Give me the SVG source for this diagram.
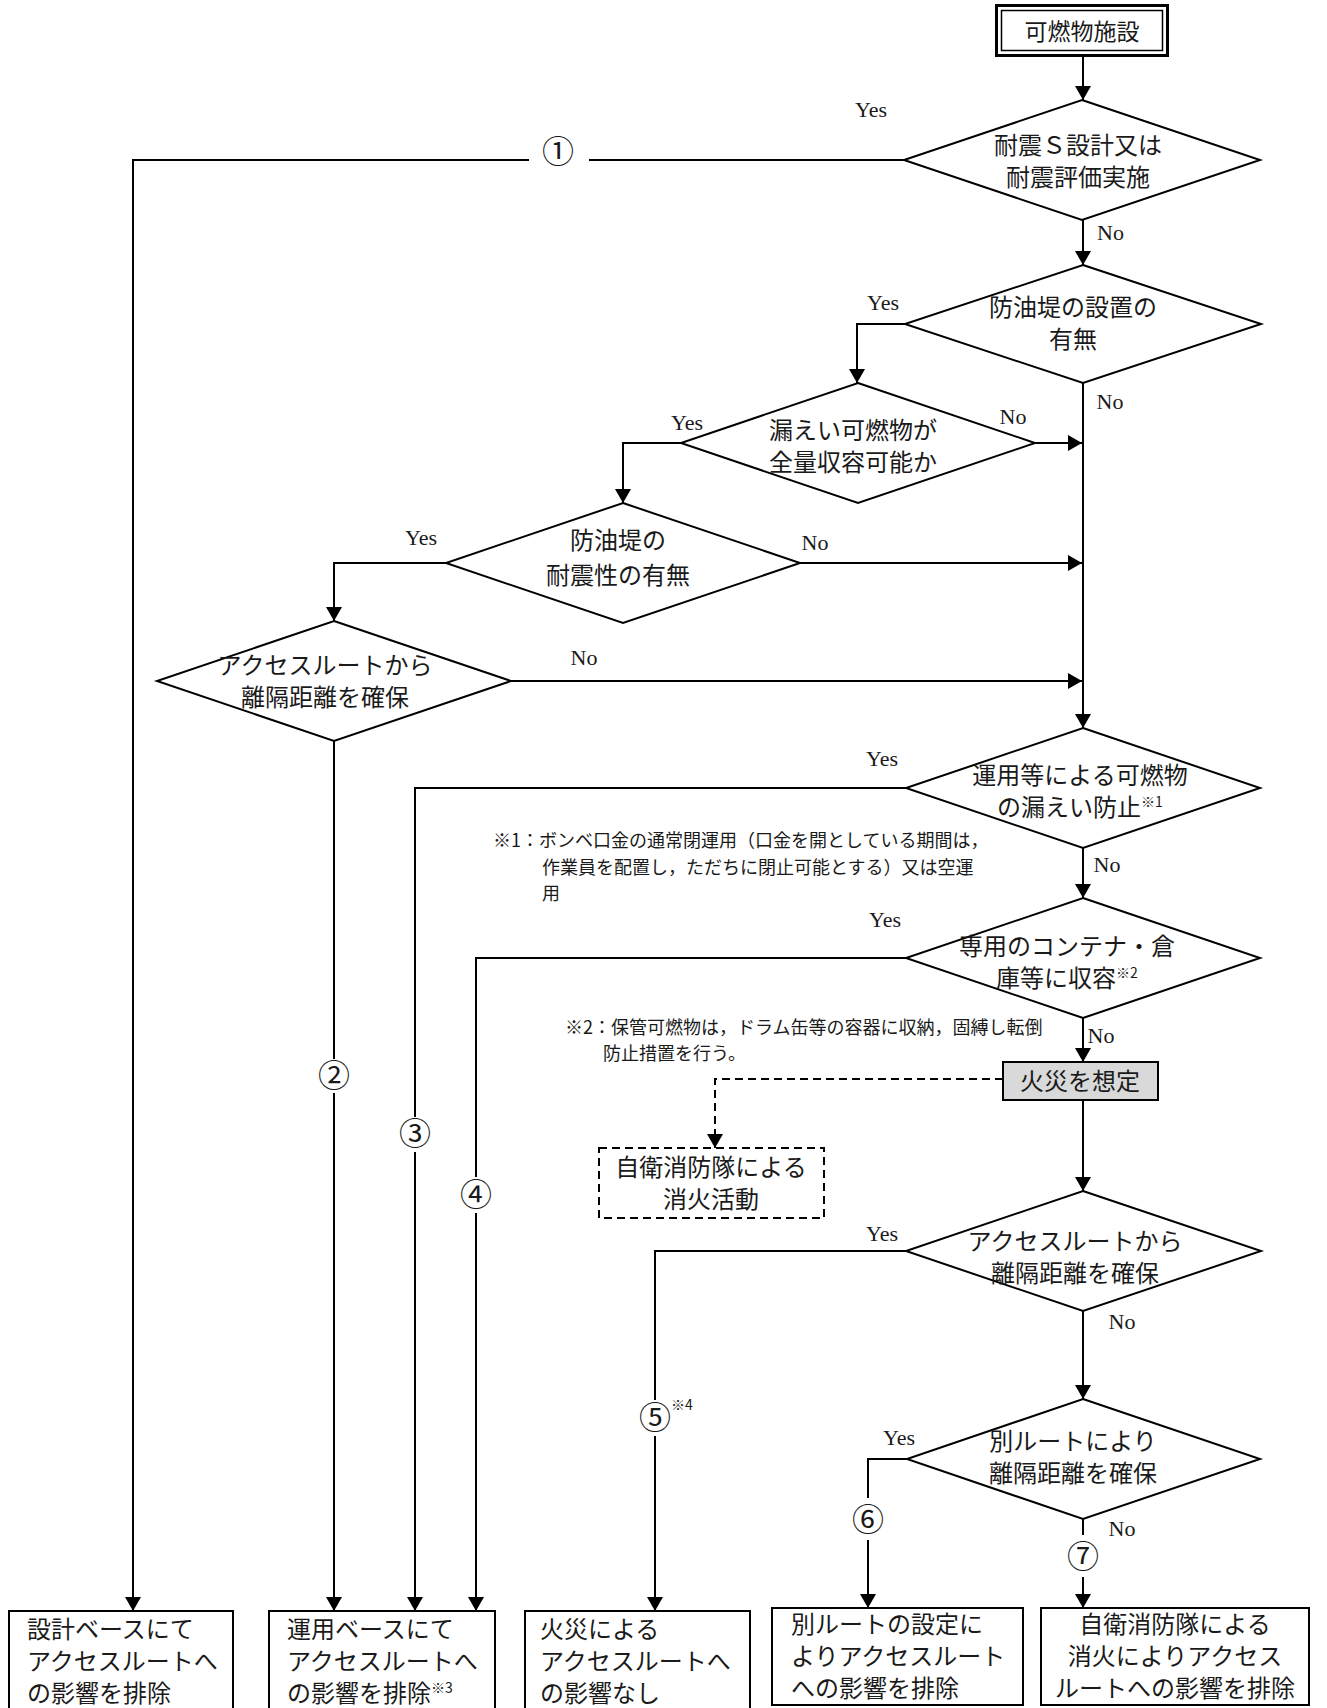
<svg xmlns="http://www.w3.org/2000/svg" width="1327" height="1708" viewBox="0 0 1327 1708">
<style>
.ln{stroke:#000;stroke-width:2;fill:none}
.dash{stroke:#000;stroke-width:2;fill:none;stroke-dasharray:8,5}
.shape{fill:#fff;stroke:#000;stroke-width:2}
.t{font-family:"Noto Sans CJK JP","Noto Sans CJK SC",sans-serif;font-size:24px;fill:#1a1a1a}
.c{text-anchor:middle}
.sup{font-size:14px}
.lbl{font-family:"Liberation Serif",serif;font-size:22px;fill:#1a1a1a}
.num{font-family:"Noto Sans CJK JP",sans-serif;font-size:32px;fill:#1a1a1a}
.note{font-family:"Noto Sans CJK JP",sans-serif;font-size:18px;fill:#1a1a1a}
</style>
<defs>
<marker id="ah" markerWidth="14" markerHeight="16" refX="14" refY="8" orient="auto" markerUnits="userSpaceOnUse">
<path d="M0,0 L14,8 L0,16 z" fill="#000"/>
</marker>
</defs>
<rect width="1327" height="1708" fill="#fff"/>

<g id="connectors">
<path class="ln" d="M1083,56 V100" marker-end="url(#ah)"/>
<path class="ln" d="M904,160 H589"/>
<path class="ln" d="M529,160 H133 V1611" marker-end="url(#ah)"/>
<path class="ln" d="M1083,220 V265" marker-end="url(#ah)"/>
<path class="ln" d="M905,324 H857 V383" marker-end="url(#ah)"/>
<path class="ln" d="M1083,383 V728" marker-end="url(#ah)"/>
<path class="ln" d="M1035,443 H1082" marker-end="url(#ah)"/>
<path class="ln" d="M681,443 H623 V503" marker-end="url(#ah)"/>
<path class="ln" d="M800,563 H1082" marker-end="url(#ah)"/>
<path class="ln" d="M446,563 H334 V621" marker-end="url(#ah)"/>
<path class="ln" d="M511,681 H1082" marker-end="url(#ah)"/>
<path class="ln" d="M334,741 V1059"/>
<path class="ln" d="M334,1093 V1611" marker-end="url(#ah)"/>
<path class="ln" d="M906,788 H415 V1117"/>
<path class="ln" d="M415,1152 V1611" marker-end="url(#ah)"/>
<path class="ln" d="M1083,848 V898" marker-end="url(#ah)"/>
<path class="ln" d="M906,958 H476 V1177"/>
<path class="ln" d="M476,1213 V1611" marker-end="url(#ah)"/>
<path class="ln" d="M1083,1018 V1062" marker-end="url(#ah)"/>
<path class="dash" d="M1003,1079 H715 V1148" marker-end="url(#ah)"/>
<path class="ln" d="M1083,1100 V1191" marker-end="url(#ah)"/>
<path class="ln" d="M906,1251 H655 V1400"/>
<path class="ln" d="M655,1436 V1611" marker-end="url(#ah)"/>
<path class="ln" d="M1083,1311 V1399" marker-end="url(#ah)"/>
<path class="ln" d="M907,1459 H868 V1498"/>
<path class="ln" d="M868,1540 V1608" marker-end="url(#ah)"/>
<path class="ln" d="M1083,1519 V1535"/>
<path class="ln" d="M1083,1577 V1608" marker-end="url(#ah)"/>
</g>

<g id="labels">
<text class="lbl" x="855" y="117">Yes</text>
<text class="lbl" x="1097" y="240">No</text>
<text class="lbl c" x="883" y="310">Yes</text>
<text class="lbl c" x="1110" y="409">No</text>
<text class="lbl c" x="687" y="430">Yes</text>
<text class="lbl c" x="1013" y="424">No</text>
<text class="lbl c" x="421" y="545">Yes</text>
<text class="lbl c" x="815" y="550">No</text>
<text class="lbl c" x="584" y="665">No</text>
<text class="lbl c" x="882" y="766">Yes</text>
<text class="lbl c" x="1107" y="872">No</text>
<text class="lbl c" x="885" y="927">Yes</text>
<text class="lbl c" x="1101" y="1043">No</text>
<text class="lbl c" x="882" y="1241">Yes</text>
<text class="lbl c" x="1122" y="1329">No</text>
<text class="lbl c" x="899" y="1445">Yes</text>
<text class="lbl c" x="1122" y="1536">No</text>
<text class="num c" x="558" y="163">①</text>
<text class="num c" x="334" y="1087">②</text>
<text class="num c" x="415" y="1145">③</text>
<text class="num c" x="476" y="1206">④</text>
<text class="num" x="639" y="1429">⑤<tspan class="sup" dy="-19">※4</tspan></text>
<text class="num c" x="868" y="1531">⑥</text>
<text class="num c" x="1083" y="1568">⑦</text>
</g>

<g id="notes">
<text class="note" x="493" y="847">※1：ボンベ口金の通常閉運用（口金を開としている期間は，<tspan x="542" dy="27">作業員を配置し，ただちに閉止可能とする）又は空運</tspan><tspan x="542" dy="26">用</tspan></text>
<text class="note" x="565" y="1034">※2：保管可燃物は，ドラム缶等の容器に収納，固縛し転倒<tspan x="603" dy="26">防止措置を行う。</tspan></text>
</g>

<g id="n_start">
<rect x="996.5" y="5.5" width="171" height="50" fill="#fff" stroke="#000" stroke-width="3"/>
<rect x="1001.5" y="10.5" width="161" height="40" fill="none" stroke="#000" stroke-width="1.5"/>
<text class="t c" x="1082" y="40" style="font-size:23px">可燃物施設</text>
</g>

<g id="d1">
<polygon class="shape" points="1082,100 1260,160 1082,220 904,160"/>
<text class="t c" x="1078" y="154">耐震Ｓ設計又は<tspan x="1078" dy="32">耐震評価実施</tspan></text>
</g>

<g id="d2">
<polygon class="shape" points="1083,265 1261,324 1083,383 905,324"/>
<text class="t c" x="1073" y="316">防油堤の設置の<tspan x="1073" dy="32">有無</tspan></text>
</g>

<g id="d3">
<polygon class="shape" points="858,383 1035,443 858,503 681,443"/>
<text class="t c" x="853" y="439">漏えい可燃物が<tspan x="853" dy="32">全量収容可能か</tspan></text>
</g>

<g id="d4">
<polygon class="shape" points="623,503 800,563 623,623 446,563"/>
<text class="t c" x="618" y="549">防油堤の<tspan x="618" dy="35">耐震性の有無</tspan></text>
</g>

<g id="d5">
<polygon class="shape" points="334,621 511,681 334,741 157,681"/>
<text class="t c" x="325" y="674">アクセスルートから<tspan x="325" dy="32">離隔距離を確保</tspan></text>
</g>

<g id="d6">
<polygon class="shape" points="1083,728 1260,788 1083,848 906,788"/>
<text class="t c" x="1080" y="784">運用等による可燃物<tspan x="1080" dy="32">の漏えい防止</tspan><tspan class="sup" dy="-9">※1</tspan></text>
</g>

<g id="d7">
<polygon class="shape" points="1083,898 1260,958 1083,1018 906,958"/>
<text class="t c" x="1067" y="955">専用のコンテナ・倉<tspan x="1067" dy="32">庫等に収容</tspan><tspan class="sup" dy="-9">※2</tspan></text>
</g>

<g id="n_fire">
<rect x="1003" y="1062" width="155" height="38" fill="#d9d9d9" stroke="#000" stroke-width="2"/>
<text class="t c" x="1080" y="1090">火災を想定</text>
</g>

<g id="n_selfire">
<rect x="599" y="1148" width="225" height="70" fill="#fff" stroke="#000" stroke-width="2" stroke-dasharray="8,5"/>
<text class="t c" x="711" y="1176">自衛消防隊による<tspan x="711" dy="32">消火活動</tspan></text>
</g>

<g id="d8">
<polygon class="shape" points="1083,1191 1261,1251 1083,1311 906,1251"/>
<text class="t c" x="1075" y="1250">アクセスルートから<tspan x="1075" dy="32">離隔距離を確保</tspan></text>
</g>

<g id="d9">
<polygon class="shape" points="1083,1399 1260,1459 1083,1519 907,1459"/>
<text class="t c" x="1073" y="1450">別ルートにより<tspan x="1073" dy="32">離隔距離を確保</tspan></text>
</g>

<g id="r1">
<rect class="shape" x="9" y="1611" width="224" height="102"/>
<text class="t" x="27" y="1638">設計ベースにて<tspan x="27" dy="32">アクセスルートへ</tspan><tspan x="27" dy="32">の影響を排除</tspan></text>
</g>

<g id="r2">
<rect class="shape" x="269" y="1611" width="226" height="102"/>
<text class="t" x="287" y="1638">運用ベースにて<tspan x="287" dy="32">アクセスルートへ</tspan><tspan x="287" dy="32">の影響を排除</tspan><tspan class="sup" dy="-9">※3</tspan></text>
</g>

<g id="r3">
<rect class="shape" x="525" y="1611" width="225" height="102"/>
<text class="t" x="540" y="1638">火災による<tspan x="540" dy="32">アクセスルートへ</tspan><tspan x="540" dy="32">の影響なし</tspan></text>
</g>

<g id="r4">
<rect class="shape" x="772" y="1608" width="251" height="97"/>
<text class="t" x="791" y="1633">別ルートの設定に<tspan x="791" dy="32">よりアクセスルート</tspan><tspan x="791" dy="32">への影響を排除</tspan></text>
</g>

<g id="r5">
<rect class="shape" x="1041" y="1608" width="268" height="97"/>
<text class="t c" x="1175" y="1633">自衛消防隊による<tspan x="1175" dy="32">消火によりアクセス</tspan><tspan x="1175" dy="32">ルートへの影響を排除</tspan></text>
</g>
</svg>
